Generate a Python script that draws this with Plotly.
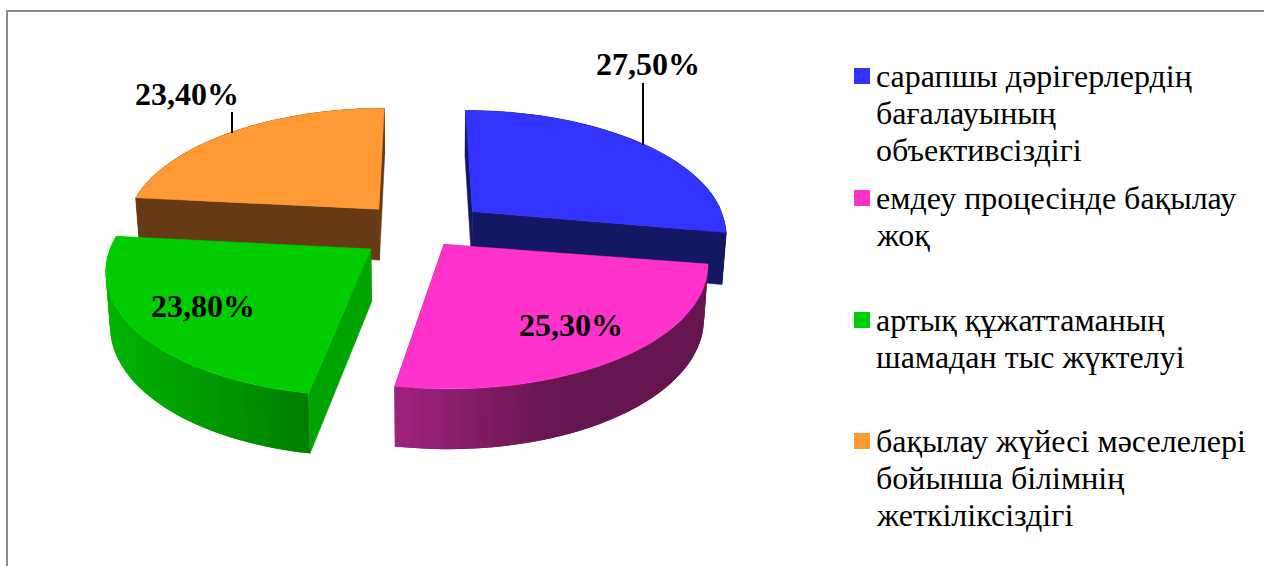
import numpy as np
import plotly.graph_objects as go

categories = [
    "сарапшы дәрігерлердің<br>бағалауының<br>объективсіздігі",
    "емдеу процесінде бақылау<br>жоқ",
    "артық құжаттаманың<br>шамадан тыс жүктелуі",
    "бақылау жүйесі мәселелері<br>бойынша білімнің<br>жеткіліксіздігі",
]
values = [27.5, 25.3, 23.8, 23.4]
top_colors = ["#3333FF", "#FF33CC", "#00CC00", "#FF9933"]
cut_colors = ["#141864", "#66164F", "#00A400", "#663A14"]
wall_from = ["#141864", "#A0227E", "#00B400", "#663A14"]
wall_to = ["#141864", "#66164F", "#007F00", "#663A14"]
explode = [0.27, 0.155, 0.23, 0.24]
y_shift = [3, 0, 3, 1]
front_y = [1.15, 0.985, 0.995, 1.0]

# projection constants of the 3-D pie
CX, CY = 420, 229
A, C, K, H = 262, 120, 0.15, 52
RADIUS_X = 0.975
BACK_Y = 1.02
BOTTOM_SCALE = 0.986
SERIF = "Liberation Serif"


def project(u, v, z=0.0, dy=0.0):
    w = 1 / (1 - K * v)
    sx = BOTTOM_SCALE if z else 1.0
    return CX + A * u * w * sx, CY + dy + C * v * w + H * z * w ** 0.8


def hex_rgb(c):
    return np.array([int(c[i:i + 2], 16) for i in (1, 3, 5)], float)


def mix(c1, c2, t):
    r = hex_rgb(c1) * (1 - t) + hex_rgb(c2) * t
    return "rgb(%d,%d,%d)" % tuple(r)


def poly(xs, ys, color, lw=0.0):
    return go.Scatter(x=list(xs) + [xs[0]], y=list(ys) + [ys[0]],
                      mode="lines" if lw else "none", fill="toself", fillcolor=color,
                      line=dict(color=color, width=lw), hoverinfo="skip", showlegend=False)


total = sum(values)
edges = np.cumsum([0] + values) / total * 2 * np.pi
fig = go.Figure()

for i in [3, 0, 2, 1]:
    t0, t1 = edges[i], edges[i + 1]
    mid = (t0 + t1) / 2
    ou, ov = explode[i] * np.sin(mid), -explode[i] * np.cos(mid)
    dy = y_shift[i]
    th = np.linspace(t0, t1, 61)
    cs = np.cos(th)
    us, vs = ou + RADIUS_X * np.sin(th), ov - cs * np.where(cs < 0, front_y[i], BACK_Y)
    for uu, vv in ((us[0], vs[0]), (us[-1], vs[-1])):
        p = [project(ou, ov, 0, dy), project(uu, vv, 0, dy), project(uu, vv, 1, dy), project(ou, ov, 1, dy)]
        fig.add_trace(poly([q[0] for q in p], [q[1] for q in p], cut_colors[i], 0.5))
    tx, ty = project(us, vs, 0, dy)
    bx, by = project(us, vs, 1, dy)
    lo, hi = min(tx), max(tx)
    n = len(th) - 1
    for j in range(n):
        e = min(j + 2, n)
        if i == 1:
            f = 1 - min(1, max(0, (0.5 * (tx[j] + tx[j + 1]) - lo) / 165))
            col = mix(wall_to[i], wall_from[i], f)
        else:
            f = (0.5 * (tx[j] + tx[j + 1]) - lo) / (hi - lo)
            col = mix(wall_from[i], wall_to[i], f)
        fig.add_trace(poly([tx[j], tx[e], bx[e], bx[j]],
                           [ty[j], ty[e], by[e], by[j]], col))
    ax, ay = project(ou, ov, 0, dy)
    fig.add_trace(poly([ax] + list(tx), [ay] + list(ty), top_colors[i], 0.5))

# leader lines
leader_pos = [(643, 83, 145), (232, 112, 133)]
for lx, y0, y1 in leader_pos:
    fig.add_shape(type="line", x0=lx, x1=lx, y0=y0, y1=y1, xref="x", yref="y",
                  line=dict(color="black", width=2))

# data labels
label_pos = [(648, 64), (571, 325), (203, 306), (187, 94)]
for v, (lx, ly) in zip(values, label_pos):
    fig.add_annotation(x=lx, y=ly, xref="x", yref="y", showarrow=False,
                       text="<b>%s%%</b>" % f"{v:.2f}".replace(".", ","),
                       font=dict(family=SERIF, size=32, color="black"))

# legend
legend_y = [76, 198, 320, 441]
LINE_PITCH = 37
for name, color, ly in zip(categories, top_colors, legend_y):
    fig.add_trace(go.Scatter(x=[862], y=[ly], mode="markers", hoverinfo="skip", showlegend=False,
                             marker=dict(symbol="square", size=16, color=color, line=dict(width=0))))
    for k, line in enumerate(name.split("<br>")):
        fig.add_annotation(x=874, y=ly + k * LINE_PITCH, xref="x", yref="y", xanchor="left",
                           yanchor="middle", showarrow=False, align="left", text=line,
                           font=dict(family=SERIF, size=32, color="black"))

# frame
fig.add_shape(type="rect", x0=7, y0=11, x1=1300, y1=600, xref="x", yref="y",
              line=dict(color="#8C8C8C", width=2), layer="below")

fig.update_layout(width=1264, height=566, margin=dict(l=0, r=0, t=0, b=0),
                  paper_bgcolor="white", plot_bgcolor="white", showlegend=False,
                  xaxis=dict(range=[0, 1264], visible=False, fixedrange=True),
                  yaxis=dict(range=[566, 0], visible=False, fixedrange=True))
fig.write_html("out.html", post_script="document.body.style.margin='0';",
               config=dict(displayModeBar=False))
